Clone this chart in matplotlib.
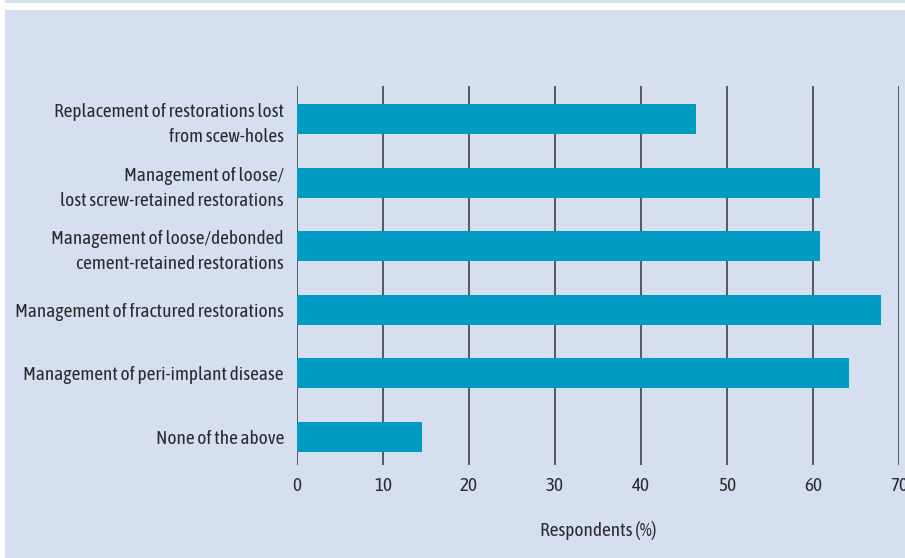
import matplotlib.pyplot as plt
from matplotlib.patches import Rectangle
from matplotlib import font_manager

categories = [
    "Replacement of restorations lost\nfrom scew-holes",
    "Management of loose/\nlost screw-retained restorations",
    "Management of loose/debonded\ncement-retained restorations",
    "Management of fractured restorations",
    "Management of peri-implant disease",
    "None of the above",
]
values = [46.4, 60.8, 60.8, 67.9, 64.2, 14.5]
xticks = [0, 10, 20, 30, 40, 50, 60, 70]

# a condensed humanist face is closest to the original (Frutiger Condensed look)
names = {f.name for f in font_manager.fontManager.ttflist}
font = "DejaVu Sans"
for cand in ["Asap Condensed", "Roboto Condensed", "Sofia Sans Semi Condensed",
             "Archivo Narrow", "Liberation Sans Narrow"]:
    if cand in names:
        font = cand
        break
plt.rcParams['font.family'] = font

bg = "#d5dff0"
bar_col = "#009bc2"
txt = "#2b2b2e"
grid_col = "#4d4d55"

fig = plt.figure(figsize=(9.05, 5.58), dpi=100, facecolor="white")
W, H = 905, 558

# pick a font size so the longest single-line label is ~269 px wide
r = fig.canvas.get_renderer()
probe = fig.text(0, 0, "Management of fractured restorations", fontsize=12)
w = probe.get_window_extent(r).width
probe.remove()
fs = 12 * 269 / w

# background panel and top strip
fig.patches.append(Rectangle((5 / W, 0), 1 - 5 / W, 1 - 10 / H, transform=fig.transFigure,
                             facecolor=bg, edgecolor="none", zorder=-10))
fig.patches.append(Rectangle((5 / W, 1 - 3 / H), 1 - 5 / W, 3 / H, transform=fig.transFigure,
                             facecolor=bg, edgecolor="none", zorder=-10))

ax = fig.add_axes([297 / W, 1 - 465 / H, 602 / W, (465 - 86) / H])
ax.set_facecolor("none")

pos = list(range(len(categories)))
ax.barh(pos, values, height=0.47, color=bar_col, zorder=3)

ax.set_xlim(0, 70)
ax.set_ylim(5.44, -0.52)
ax.set_xticks(xticks)
ax.set_xticklabels([str(t) for t in xticks])
ax.set_yticks(pos)
ax.set_yticklabels(categories, linespacing=1.5)
for s in ax.spines.values():
    s.set_visible(False)
ax.grid(axis="x", color=grid_col, linewidth=1.3, zorder=1)
ax.tick_params(axis="y", length=0, pad=9.4, labelsize=fs, labelcolor=txt)
ax.tick_params(axis="x", length=0, pad=8.5, labelsize=fs, labelcolor=txt)
ax.set_xlabel("Respondents (%)", fontsize=fs, color=txt, labelpad=19)

fig.savefig("out.png", dpi=100, facecolor="white")
